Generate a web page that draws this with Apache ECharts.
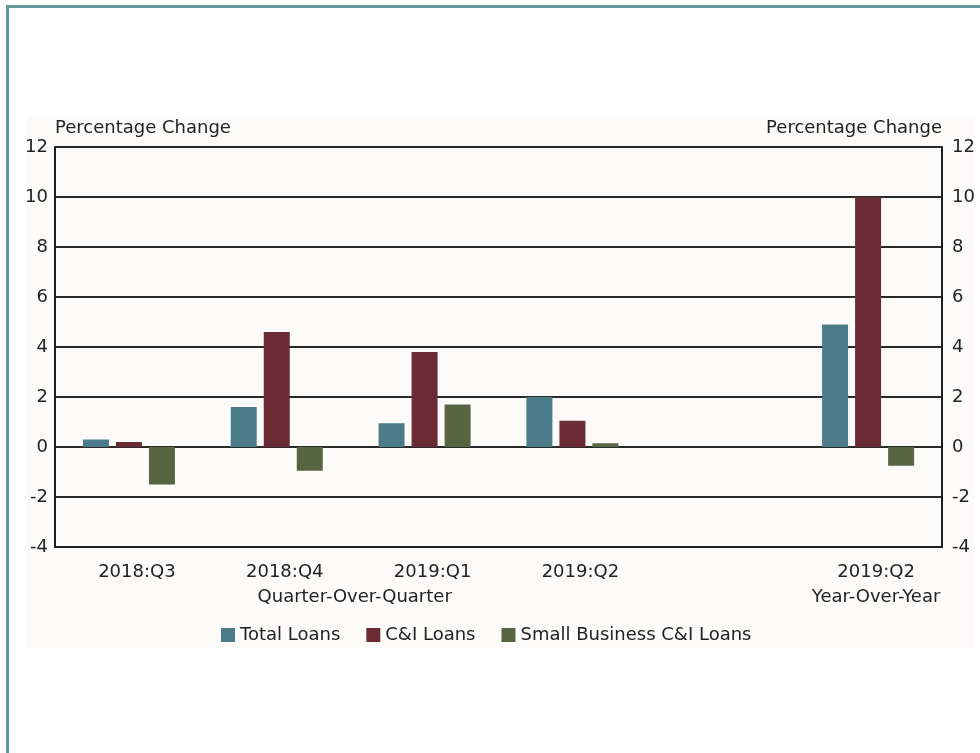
<!DOCTYPE html>
<html>
<head>
<meta charset="utf-8">
<script src="https://cdn.jsdelivr.net/npm/echarts@6/dist/echarts.min.js"></script>
<style>
  html, body { margin: 0; padding: 0; background: #fff; }
  #frame { position: absolute; left: 6px; top: 5px; width: 980px; height: 760px;
           border-top: 3px solid #5e9d9b; border-left: 3px solid #5e9d9b; }
  #panel { position: absolute; left: 27px; top: 117px; width: 948px; height: 531px; background: #fcfbf9; }
  #chart { position: absolute; left: 0; top: 0; width: 980px; height: 753px; }
</style>
</head>
<body>
<div id="frame"></div>
<div id="panel"></div>
<div id="chart"></div>
<script>
// categories; the empty one keeps the gap before the year-over-year group
const categories = ['2018:Q3', '2018:Q4', '2019:Q1', '2019:Q2', '', '2019:Q2\nYear-Over-Year'];
const totalLoans = [0.3, 1.6, 0.95, 2.0, null, 4.9];
const ciLoans = [0.2, 4.6, 3.8, 1.05, null, 10.0];
const smallBizLoans = [-1.5, -0.95, 1.7, 0.15, null, -0.75];
const seriesNames = ['Total Loans', 'C&I Loans', 'Small Business C&I Loans'];
const colors = ['#4b7b88', '#6b2b35', '#576540'];

const font = 'DejaVu Sans';

var chartDom = document.getElementById('chart');
var myChart = echarts.init(chartDom);

function yAxisFor(pos) {
  return {
    type: 'value',
    position: pos,
    min: -4,
    max: 12,
    interval: 2,
    name: 'Percentage Change',
    nameLocation: 'end',
    nameGap: 10,
    nameTextStyle: { color: '#222', fontSize: 18, fontFamily: font, align: pos === 'left' ? 'left' : 'right' },
    axisLine: { show: true, lineStyle: { color: '#1e1e1e', width: 2 } },
    axisTick: { show: false },
    axisLabel: { color: '#222', fontSize: 18, fontFamily: font, margin: pos === 'left' ? 7 : 10 },
    splitLine: { show: pos === 'left', lineStyle: { color: '#2a2a2a', width: 1.8 } }
  };
}

var option = {
  animation: false,
  textStyle: { fontFamily: font },
  grid: { left: 55, right: 38, top: 147, bottom: 206, containLabel: false },
  legend: {
    data: seriesNames,
    left: 216,
    top: 621,
    icon: 'rect',
    itemWidth: 14,
    itemHeight: 14,
    itemGap: 26,
    textStyle: { color: '#222', fontSize: 18, fontFamily: font }
  },
  xAxis: {
    type: 'category',
    data: categories,
    axisLine: { show: true, onZero: false, lineStyle: { color: '#1e1e1e', width: 2 } },
    axisTick: { show: false },
    axisLabel: { color: '#222', fontSize: 18, fontFamily: font, margin: 13, lineHeight: 25, padding: [0, 0, 0, 16], interval: 0 }
  },
  yAxis: [yAxisFor('left'), yAxisFor('right')],
  series: [
    { name: seriesNames[0], type: 'bar', data: totalLoans, barWidth: 26, barGap: '27%', itemStyle: { color: colors[0] } },
    { name: seriesNames[1], type: 'bar', data: ciLoans, barWidth: 26, barGap: '27%', itemStyle: { color: colors[1] } },
    { name: seriesNames[2], type: 'bar', data: smallBizLoans, barWidth: 26, barGap: '27%', itemStyle: { color: colors[2] } }
  ]
};

myChart.setOption(option);

// "Quarter-Over-Quarter" sits under the middle of the quarterly groups
var xa = myChart.convertToPixel({ xAxisIndex: 0 }, categories[1]);
var xb = myChart.convertToPixel({ xAxisIndex: 0 }, categories[2]);
var yBase = myChart.convertToPixel({ yAxisIndex: 0 }, -4);
myChart.setOption({
  graphic: [{
    type: 'text',
    x: (xa + xb) / 2 + 4,
    y: yBase + 50,
    style: { text: 'Quarter-Over-Quarter', fill: '#222', font: '18px ' + font, align: 'center', verticalAlign: 'middle' }
  }]
});

window.addEventListener('resize', () => {
  myChart.resize();
});
</script>
</body>
</html>
